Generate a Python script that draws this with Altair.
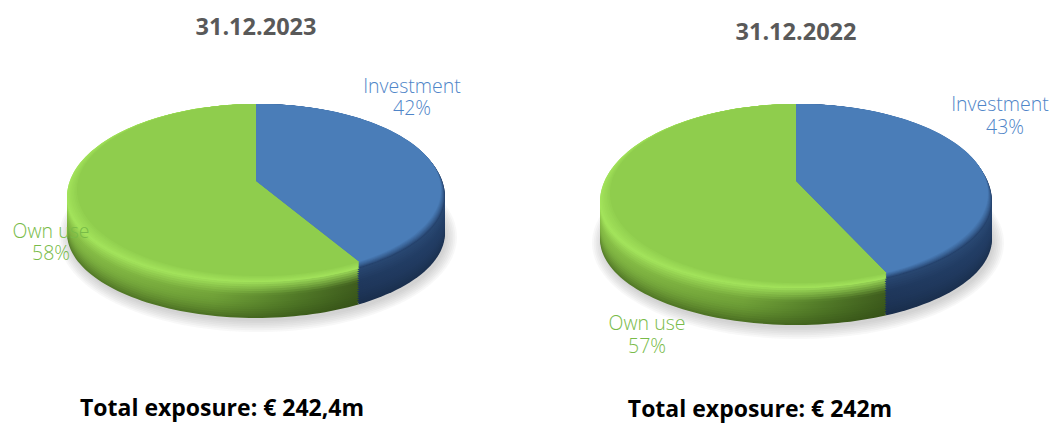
import math
import numpy as np
import pandas as pd
import altair as alt

# ---- values
dates = ["31.12.2023", "31.12.2022"]
investment_share = [42, 43]
own_use_share = [58, 57]
totals = ["Total exposure: € 242,4m", "Total exposure: € 242m"]

# ---- layout of each drawn pie (reference pixels): cx, cy, rx, ry above, ry below
pies = [
    dict(ax=256, ay=181, fc=(259, 190, 182, 86, 86), dc=(256, 197, 189, 93, 85), depth=36, ray=198),
    dict(ax=796, ay=181, fc=(799, 193.5, 189, 89.5, 89.5), dc=(796, 202, 196, 98, 86), depth=37, ray=184),
]

XS = alt.Scale(domain=[8, 1049], nice=False, zero=False)
YS = alt.Scale(domain=[433, 8], nice=False, zero=False)
layers = []


def hex2(c):
    return np.array([int(c[i:i + 2], 16) for i in (1, 3, 5)], float)


def mix(a, b, t):
    v = hex2(a) * (1 - t) + hex2(b) * t
    return "#%02x%02x%02x" % tuple(int(round(x)) for x in np.clip(v, 0, 255))


def poly(xs, ys, fill, opacity=1.0):
    df = pd.DataFrame({"x": xs, "y": ys, "i": range(len(xs))})
    layers.append(
        alt.Chart(df)
        .mark_line(fill=fill, strokeWidth=0, opacity=opacity, interpolate="linear")
        .encode(
            x=alt.X("x:Q", scale=XS, axis=None),
            y=alt.Y("y:Q", scale=YS, axis=None),
            order="i:Q",
        )
    )


def ellipse(cx, cy, rx, ry, fill, opacity=1.0):
    t = np.linspace(0, 2 * math.pi, 120)
    poly(cx + rx * np.sin(t), cy - ry * np.cos(t), fill, opacity)


def sector(el, ax, ay, xe, part, fill):
    cx, cy, rx, ru, rd = el
    t0 = math.asin(np.clip((ax - cx) / rx, -1, 1))
    t1 = math.pi - math.asin(np.clip((xe - cx) / rx, -1, 1))
    if part == "inv":
        t = np.linspace(t0, t1, 70)
    else:
        t = np.linspace(t1, 2 * math.pi + t0, 110)
    c = np.cos(t)
    xs = np.r_[ax, cx + rx * np.sin(t), ax]
    ys = np.r_[ay, cy - np.where(c > 0, ru, rd) * c, ay]
    poly(xs, ys, fill)


def wedge_end(share, p):
    """x where the boundary of the investment slice meets the face rim."""
    ax, ay, ray = p["ax"], p["ay"], p["ray"]
    cx, cy, rx, ry, _ = p["fc"]
    top, bottom = cy - ry, cy + ry
    C = (2 * ay - top - bottom) / (bottom - top)
    A = bottom * (1 + C) - ay
    a = 2 * math.pi * share / 100
    u, v = math.sin(a), -math.cos(a)
    den = 1 + C * v
    dx, dy = ray * u / den, (A * v + ay) / den - ay
    ex, ey = (ax - cx) / rx, (ay - cy) / ry
    qa = (dx / rx) ** 2 + (dy / ry) ** 2
    qb = 2 * (ex * dx / rx + ey * dy / ry)
    qc = ex ** 2 + ey ** 2 - 1
    s = (-qb + math.sqrt(qb * qb - 4 * qa * qc)) / (2 * qa)
    return ax + s * dx


def side_fill(stops, highlight, dark, p):
    if p < 0.4:
        amt, tgt = (0.4 - p) / 0.4 * 0.9, highlight
    else:
        amt, tgt = ((p - 0.4) / 0.6) ** 1.6 * 0.55, dark
    return alt.Gradient(
        gradient="linear", x1=0, x2=1, y1=0, y2=0,
        stops=[alt.GradientStop(offset=o, color=mix(c, tgt, amt)) for o, c in stops],
    )


GREEN_SIDE = [(0, "#86bd46"), (0.5, "#72a439"), (0.78, "#527b28"), (1, "#3e5c1d")]
BLUE_SIDE = [(0, "#1c3152"), (1, "#223e66")]

for p, share in zip(pies, investment_share):
    ax, ay, depth = p["ax"], p["ay"], p["depth"]
    dc, fc = p["dc"], p["fc"]
    xe = wedge_end(share, p)

    # soft ground shadow
    for k in range(7):
        ellipse(dc[0] + 2, dc[1] + depth + 4, dc[2] + 10 - 1.8 * k, dc[4] + 10 - 1.8 * k, "#7f7f7f", 0.05)

    # side wall: stacked discs, painted from the bottom up
    n = 16
    for j in range(n, -1, -1):
        q = j / n
        el = (dc[0], dc[1] + depth * q, dc[2], dc[3], dc[4])
        sector(el, ax, ay + depth * q, xe, "own", side_fill(GREEN_SIDE, "#a9ec60", "#2f4a12", q))
        sector(el, ax, ay + depth * q, xe, "inv", side_fill(BLUE_SIDE, "#2a4a75", "#15263f", q))

    # bevel between wall and top face
    m = 7
    for j in range(m):
        q = j / m
        el = tuple(d * (1 - q) + f * q for d, f in zip(dc, fc))
        sector(el, ax, ay, xe, "own", mix("#a2e25b", "#90ce4e", q))
        sector(el, ax, ay, xe, "inv", mix("#25426c", "#4a7db8", q ** 0.8))

    # top face
    sector(fc, ax, ay, xe, "own", "#8fcd4d")
    sector(fc, ax, ay, xe, "inv", "#4a7db8")

# ---- texts
BLUE_TXT = "#4f85c8"
GREEN_TXT = "#78bb48"
texts = pd.DataFrame(
    [
        ("Investment", 412, 87, BLUE_TXT),
        (f"{investment_share[0]}%", 412, 109, BLUE_TXT),
        ("Own use", 51, 232, GREEN_TXT),
        (f"{own_use_share[0]}%", 51, 254, GREEN_TXT),
        ("Investment", 1000, 105, BLUE_TXT),
        (f"{investment_share[1]}%", 1005, 128, BLUE_TXT),
        ("Own use", 647, 324, GREEN_TXT),
        (f"{own_use_share[1]}%", 647, 347, GREEN_TXT),
    ],
    columns=["t", "x", "y", "c"],
)
heads = pd.DataFrame(
    [(dates[0], 256, 28, "#595959", 23.5), (dates[1], 796, 33, "#595959", 23.5),
     (totals[0], 222, 409, "#000000", 23), (totals[1], 760, 410, "#000000", 23)],
    columns=["t", "x", "y", "c", "s"],
)

labels = alt.Chart(texts).mark_text(
    font="Open Sans", fontWeight=300, fontSize=19.5, align="center", baseline="middle",
).encode(
    x=alt.X("x:Q", scale=XS, axis=None),
    y=alt.Y("y:Q", scale=YS, axis=None),
    text="t:N",
    color=alt.Color("c:N", scale=None),
)
bold = alt.Chart(heads).mark_text(font="Open Sans", fontWeight="bold", align="center", baseline="middle").encode(
    x=alt.X("x:Q", scale=XS, axis=None),
    y=alt.Y("y:Q", scale=YS, axis=None),
    text="t:N",
    color=alt.Color("c:N", scale=None),
    size=alt.Size("s:Q", scale=None),
)

chart = (
    alt.layer(*layers, labels, bold)
    .properties(width=1041, height=425, padding=0, autosize=alt.AutoSizeParams(type="none"), background="white")
    .configure_view(strokeWidth=0)
)
chart.save("out.html", embed_options={"renderer": "svg", "actions": False})
